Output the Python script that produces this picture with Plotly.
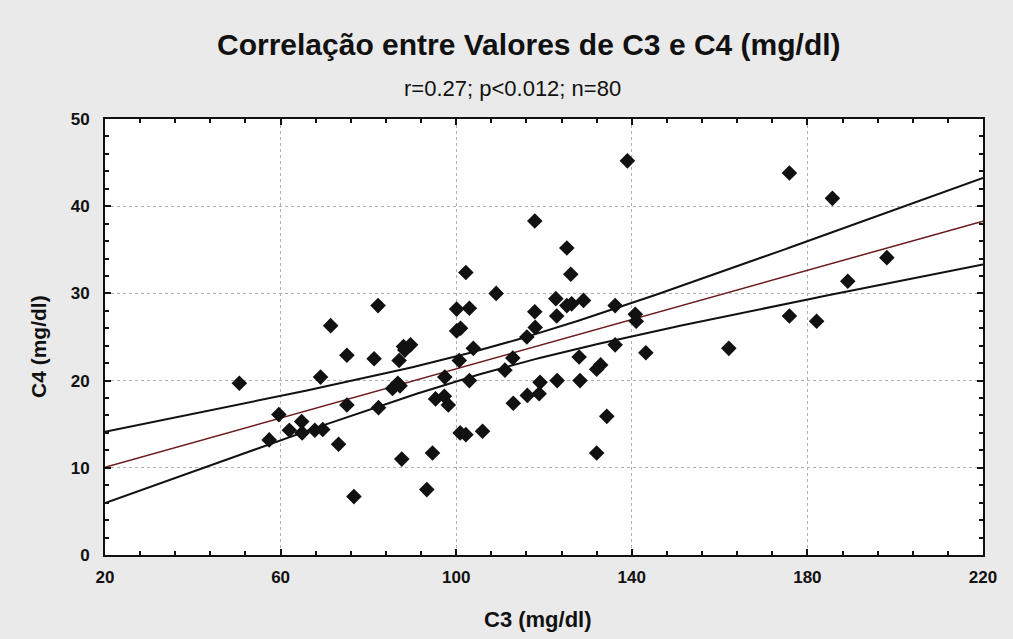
import numpy as np
import plotly.graph_objects as go

c3 = [50.6, 59.6, 57.4, 62.0, 64.8, 64.9, 67.8, 69.6, 69.1, 71.4,
      73.2, 75.1, 75.1, 76.7, 81.3, 82.2, 82.3, 85.5, 86.7, 87.2,
      87.0, 87.6, 88.0, 88.3, 89.6, 93.3, 94.6, 95.3, 97.3, 98.2,
      97.4, 100.1, 100.1, 101.0, 100.7, 100.9, 102.2, 102.2, 103.0, 103.0,
      103.9, 106.0, 109.1, 111.1, 112.9, 113.0, 116.1, 116.2, 117.9, 117.9,
      118.0, 119.1, 118.9, 122.7, 122.9, 123.0, 125.2, 126.1, 125.2, 126.3,
      128.0, 128.2, 129.0, 132.0, 132.0, 132.9, 134.3, 136.2, 136.2, 139.0,
      140.8, 141.0, 143.2, 162.1, 175.9, 175.9, 182.1, 185.7, 189.2, 198.1]
c4 = [19.7, 16.1, 13.2, 14.3, 15.3, 14.0, 14.3, 14.4, 20.4, 26.3,
      12.7, 22.9, 17.2, 6.7, 22.5, 28.6, 16.9, 19.1, 19.7, 19.4,
      22.3, 11.0, 23.9, 23.5, 24.1, 7.5, 11.7, 17.9, 18.2, 17.2,
      20.4, 28.2, 25.7, 26.0, 22.3, 14.0, 13.8, 32.4, 28.3, 20.0,
      23.7, 14.2, 30.0, 21.2, 22.6, 17.4, 25.0, 18.3, 38.3, 27.9,
      26.1, 19.8, 18.5, 29.4, 27.4, 20.0, 35.2, 32.2, 28.6, 28.8,
      22.7, 20.0, 29.2, 11.7, 21.3, 21.8, 15.9, 28.6, 24.1, 45.2,
      27.6, 26.8, 23.2, 23.7, 43.8, 27.4, 26.8, 40.9, 31.4, 34.1]

title = "Correlação entre Valores de C3 e C4 (mg/dl)"
subtitle = "r=0.27; p<0.012; n=80"
x_label = "C3 (mg/dl)"
y_label = "C4 (mg/dl)"
x_ticks = [20, 60, 100, 140, 180, 220]
y_ticks = [0, 10, 20, 30, 40, 50]

# linear regression with 95% confidence band
x = np.array(c3)
y = np.array(c4)
n = len(x)
slope, intercept = np.polyfit(x, y, 1)
resid = y - (slope * x + intercept)
s = np.sqrt(np.sum(resid ** 2) / (n - 2))
sxx = np.sum((x - x.mean()) ** 2)
t_val = 1.9908
xs = np.linspace(20, 220, 201)
ys = slope * xs + intercept
half = t_val * s * np.sqrt(1.0 / n + (xs - x.mean()) ** 2 / sxx)

FONT = "Liberation Sans, Arial, sans-serif"
INK = "#111111"

fig = go.Figure()
fig.add_trace(go.Scatter(x=xs, y=ys + half, mode="lines",
                         line=dict(color=INK, width=2), hoverinfo="skip"))
fig.add_trace(go.Scatter(x=xs, y=ys - half, mode="lines",
                         line=dict(color=INK, width=2), hoverinfo="skip"))
fig.add_trace(go.Scatter(x=xs, y=ys, mode="lines",
                         line=dict(color="#6a1a1a", width=1.5), hoverinfo="skip"))
fig.add_trace(go.Scatter(x=c3, y=c4, mode="markers",
                         marker=dict(symbol="diamond", size=12, color=INK)))

axis_common = dict(
    showline=True, linecolor=INK, linewidth=2, mirror="ticks",
    ticks="inside", ticklen=6, tickcolor=INK, tickwidth=1.5,
    showgrid=True, gridcolor="#b0b0b0", griddash="dot", gridwidth=1,
    zeroline=False, automargin=False,
    tickfont=dict(family=FONT, size=17, color=INK, weight="bold"),
)

fig.update_layout(
    width=1013, height=639,
    margin=dict(l=105, r=30, t=119, b=84),
    paper_bgcolor="#eaeaea", plot_bgcolor="#ffffff",
    showlegend=False,
    annotations=[
        dict(text="<b>" + title + "</b>", xref="paper", yref="paper",
             x=0.483, y=1.0, yshift=75, xanchor="center", yanchor="middle",
             showarrow=False, font=dict(family=FONT, size=30, color=INK)),
        dict(text=subtitle, xref="paper", yref="paper",
             x=0.464, y=1.0, yshift=31, xanchor="center", yanchor="middle",
             showarrow=False, font=dict(family=FONT, size=22, color=INK)),
        dict(text="<b>" + x_label + "</b>", xref="paper", yref="paper",
             x=0.493, y=-0.147, xanchor="center", yanchor="middle",
             showarrow=False, font=dict(family=FONT, size=22, color=INK)),
        dict(text="<b>" + y_label + "</b>", xref="paper", yref="paper",
             x=-0.0763, y=0.477, xanchor="center", yanchor="middle",
             textangle=-90,
             showarrow=False, font=dict(family=FONT, size=21, color=INK)),
    ],
    xaxis=dict(range=[20, 220], tickvals=x_ticks, ticklabelstandoff=6,
               minor=dict(dtick=8, tick0=20, ticks="inside", ticklen=4,
                          tickcolor=INK, showgrid=False),
               **axis_common),
    yaxis=dict(range=[0, 50], tickvals=y_ticks, ticklabelstandoff=10,
               minor=dict(dtick=2, ticks="inside", ticklen=4,
                          tickcolor=INK, showgrid=False),
               **axis_common),
)

fig.write_html("out.html", config={"displayModeBar": False},
               post_script="document.body.style.margin='0';")
